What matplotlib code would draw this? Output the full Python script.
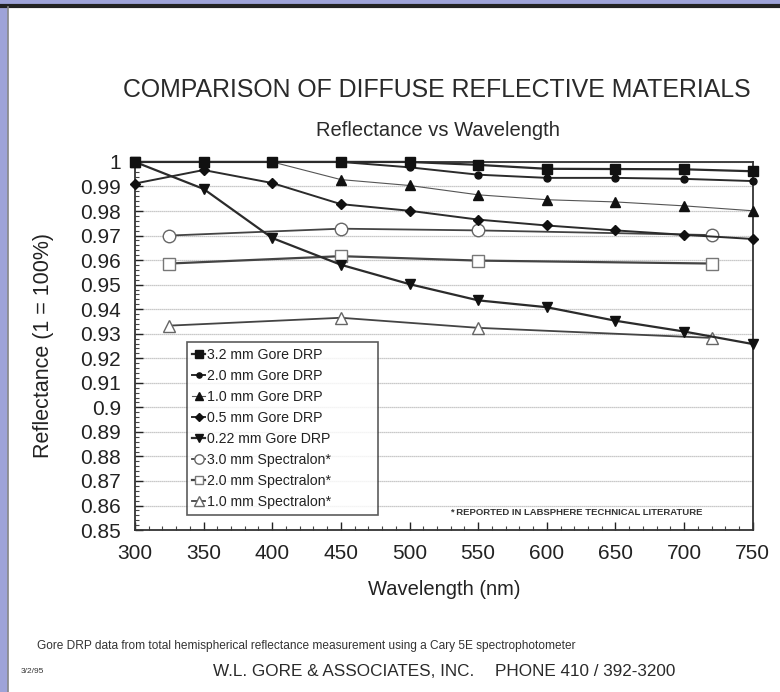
import numpy as np
import matplotlib
matplotlib.use("Agg")
import matplotlib.pyplot as plt
from matplotlib.ticker import MultipleLocator
from matplotlib.patches import Rectangle

plt.rcParams['font.family'] = ['Liberation Sans', 'DejaVu Sans']

# Gore DRP data (measured every 50 nm)
wl_gore = [300, 350, 400, 450, 500, 550, 600, 650, 700, 750]
gore_32 = [1.000, 1.000, 1.000, 1.000, 1.000, 0.9988, 0.9972, 0.9971, 0.9970, 0.9962]
gore_20 = [1.000, 1.000, 1.000, 1.000, 0.9978, 0.9948, 0.9935, 0.9935, 0.9931, 0.9922]
gore_10 = [1.000, 1.000, 1.000, 0.9928, 0.9904, 0.9866, 0.9846, 0.9837, 0.9821, 0.9801]
gore_05 = [0.9912, 0.9967, 0.9914, 0.9828, 0.9801, 0.9765, 0.9741, 0.9721, 0.9703, 0.9686]
gore_022 = [1.000, 0.9890, 0.9690, 0.9581, 0.9502, 0.9436, 0.9408, 0.9353, 0.9309, 0.9258]

# Spectralon data (reported by Labsphere)
wl_spec = [325, 450, 550, 720]
spec_30 = [0.9700, 0.9728, 0.9721, 0.9702]
spec_20 = [0.9586, 0.9616, 0.9598, 0.9586]
spec_10 = [0.9333, 0.9365, 0.9324, 0.9283]

ytick_labels = ['0.85', '0.86', '0.87', '0.88', '0.89', '0.9', '0.91', '0.92', '0.93',
                '0.94', '0.95', '0.96', '0.97', '0.98', '0.99', '1']

fig = plt.figure(figsize=(7.8, 6.92), dpi=100)
fig.patch.set_facecolor('white')

# scanned page frame
fig.patches.append(Rectangle((0, 0), 0.009, 1, transform=fig.transFigure, color='#9ea3d8', zorder=0))
fig.patches.append(Rectangle((0, 0.995), 1, 0.005, transform=fig.transFigure, color='#9ea3d8', zorder=0))
fig.lines.append(plt.Line2D([0, 1], [0.992, 0.992], transform=fig.transFigure, color='#222222', lw=3))
fig.lines.append(plt.Line2D([0.0105, 0.0105], [0, 0.99], transform=fig.transFigure, color='#888888', lw=1.2))

ax = fig.add_axes([0.173, 0.234, 0.792, 0.532])

dark = '#2b2b2b'
kw = dict(clip_on=False)
ax.plot(wl_gore, gore_32, color=dark, lw=1.6, marker='s', ms=7, mfc='#111111', mec='#111111', label='3.2 mm Gore DRP', zorder=5, **kw)
ax.plot(wl_gore, gore_20, color=dark, lw=1.4, marker='o', ms=5, mfc='#111111', mec='#111111', label='2.0 mm Gore DRP', zorder=4, **kw)
ax.plot(wl_gore, gore_10, color='#555555', lw=0.8, marker='^', ms=7, mfc='#111111', mec='#111111', label='1.0 mm Gore DRP', zorder=4, **kw)
ax.plot(wl_gore, gore_05, color=dark, lw=1.4, marker='D', ms=5.5, mfc='#111111', mec='#111111', label='0.5 mm Gore DRP', zorder=4, **kw)
ax.plot(wl_gore, gore_022, color=dark, lw=1.6, marker='v', ms=7, mfc='#111111', mec='#111111', label='0.22 mm Gore DRP', zorder=4, **kw)
ax.plot(wl_spec, spec_30, color='#444444', lw=1.3, marker='o', ms=9, mfc='white', mec='#666666', label='3.0 mm Spectralon*', zorder=3)
ax.plot(wl_spec, spec_20, color='#444444', lw=1.6, marker='s', ms=8, mfc='white', mec='#777777', label='2.0 mm Spectralon*', zorder=3)
ax.plot(wl_spec, spec_10, color='#444444', lw=1.3, marker='^', ms=9, mfc='white', mec='#666666', label='1.0 mm Spectralon*', zorder=3)

ax.set_xlim(300, 750)
ax.set_ylim(0.85, 1.0)
ax.xaxis.set_major_locator(MultipleLocator(50))
ax.xaxis.set_minor_locator(MultipleLocator(10))
ax.yaxis.set_minor_locator(MultipleLocator(0.002))
ax.set_yticks(np.arange(0.85, 1.0001, 0.01))
ax.set_yticklabels(ytick_labels)
ax.tick_params(axis='both', which='major', direction='in', length=6, width=1, labelsize=15, colors='#222222')
ax.tick_params(axis='both', which='minor', direction='in', length=3, width=0.8, colors='#444444')
ax.tick_params(axis='x', pad=10)
ax.tick_params(axis='y', pad=10)
ax.grid(axis='y', which='major', color='#b8b8b8', lw=0.9, ls=(0, (1, 0.6)))
for s in ax.spines.values():
    s.set_color('#333333')
    s.set_linewidth(1.3)

ax.set_xlabel('Wavelength (nm)', fontsize=14.5, color='#222222', labelpad=12)
ax.set_ylabel('Reflectance (1 = 100%)', fontsize=15.5, color='#222222', labelpad=19)

leg = ax.legend(loc='upper left', bbox_to_anchor=(0.084, 0.0, 0.309, 0.511), mode='expand',
                fontsize=10.2, handlelength=0.9, handletextpad=0.15, labelspacing=0.5,
                borderpad=0.4, markerscale=0.75, frameon=True, fancybox=False, borderaxespad=0)
leg.get_frame().set_edgecolor('#333333')
leg.get_frame().set_linewidth(1.2)
for t in leg.get_texts():
    t.set_color('#222222')

ax.text(0.715, 0.049, '* REPORTED IN LABSPHERE TECHNICAL LITERATURE', transform=ax.transAxes,
        fontsize=6.8, ha='center', va='center', color='#333333', fontweight='bold')

fig.text(0.560, 0.870, 'COMPARISON OF DIFFUSE REFLECTIVE MATERIALS', fontsize=17.9,
         ha='center', va='center', color='#2a2a2a')
fig.text(0.562, 0.811, 'Reflectance vs Wavelength', fontsize=14.5, ha='center', va='center', color='#2a2a2a')
fig.text(0.047, 0.067, 'Gore DRP data from total hemispherical reflectance measurement using a Cary 5E spectrophotometer',
         fontsize=8.6, ha='left', va='center', color='#333333')
fig.text(0.027, 0.029, '3/2/95', fontsize=6, ha='left', va='center', color='#333333')
fig.text(0.273, 0.029, 'W.L. GORE & ASSOCIATES, INC.', fontsize=12.3, ha='left', va='center', color='#2a2a2a')
fig.text(0.635, 0.029, 'PHONE 410 / 392-3200', fontsize=12.3, ha='left', va='center', color='#2a2a2a')

fig.savefig('out.png', dpi=100, facecolor='white')
